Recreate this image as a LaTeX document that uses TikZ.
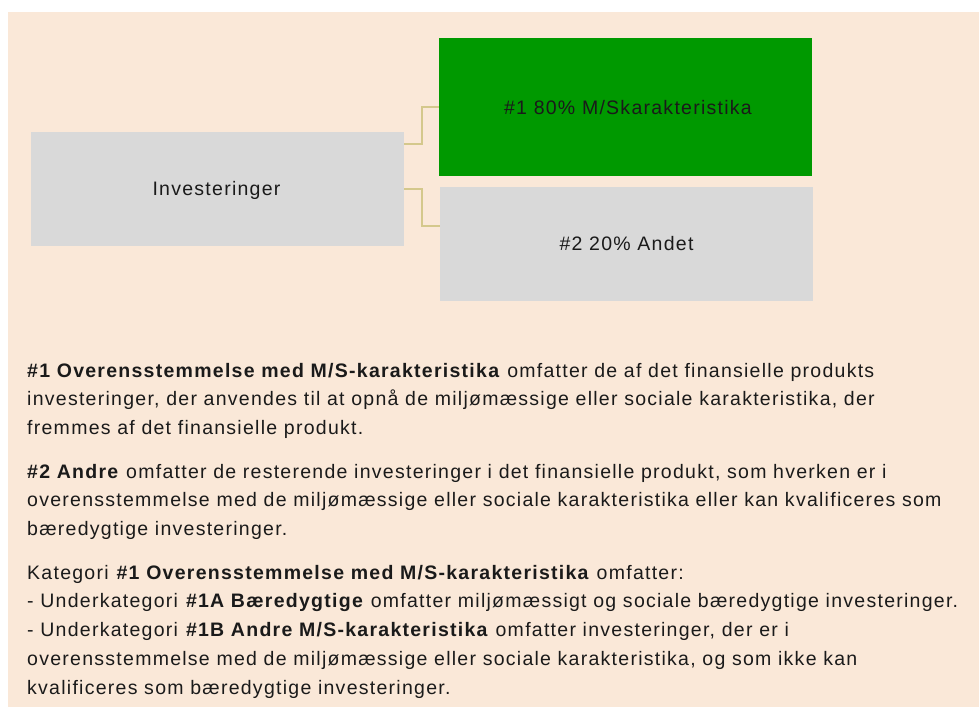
\documentclass[tikz,border=0pt]{standalone}
\usepackage{fontspec}
\setmainfont{Liberation Sans}[LetterSpace=6.5]
\definecolor{bgpeach}{HTML}{FAE8D8}
\definecolor{boxgrey}{HTML}{D9D9D9}
\definecolor{boxgreen}{HTML}{009900}
\definecolor{linktan}{HTML}{D4C88C}
\definecolor{txt}{HTML}{1A1A1A}
\tikzset{
  box/.style={draw=none, inner sep=0pt, anchor=base, font=\fontsize{19.5}{22}\selectfont, text=txt},
  link/.style={draw=linktan, line width=2pt},
  para/.style={anchor=base west, inner sep=0pt, align=left, text=txt,
    font=\fontsize{19.5}{28.8}\selectfont},
}
\begin{document}
\begin{tikzpicture}[x=1pt,y=-1pt]
\useasboundingbox (0,0) rectangle (979,713);
\fill[bgpeach] (8,12) rectangle (979,707);
% boxes
\fill[boxgrey] (31,132) rectangle (404,246);
\node[box] (inv) at (216.5,195) {Investeringer};
\fill[boxgreen] (439,38) rectangle (812,176);
\node[box] (g1) at (628,114) {\#1 80\% M/Skarakteristika};
\fill[boxgrey] (440,187) rectangle (813,301);
\node[box] (g2) at (626.5,250) {\#2 20\% Andet};
% connector end points on box edges
\coordinate (invR1) at (404,144);
\coordinate (invR2) at (404,189);
\coordinate (g1L) at (439,107);
\coordinate (g2L) at (440,226);
\draw[link] (invR1) -- (422,144) -- (422,107) -- (g1L);
\draw[link] (invR2) -- (422,189) -- (422,226) -- (g2L);
% text (node base = baseline of last line)
\node[para] (p1) at (27,434.6) {\textbf{\#1 Overensstemmelse med M/S-karakteristika} omfatter de af det finansielle produkts\\
investeringer, der anvendes til at opnå de miljømæssige eller sociale karakteristika, der\\
fremmes af det finansielle produkt.};
\node[para] (p2) at (27,535.6) {\textbf{\#2 Andre} omfatter de resterende investeringer i det finansielle produkt, som hverken er i\\
overensstemmelse med de miljømæssige eller sociale karakteristika eller kan kvalificeres som\\
bæredygtige investeringer.};
\node[para] (p3) at (27,694.2) {Kategori \textbf{\#1 Overensstemmelse med M/S-karakteristika} omfatter:\\
- Underkategori \textbf{\#1A Bæredygtige} omfatter miljømæssigt og sociale bæredygtige investeringer.\\
- Underkategori \textbf{\#1B Andre M/S-karakteristika} omfatter investeringer, der er i\\
overensstemmelse med de miljømæssige eller sociale karakteristika, og som ikke kan\\
kvalificeres som bæredygtige investeringer.};
\end{tikzpicture}
\end{document}
